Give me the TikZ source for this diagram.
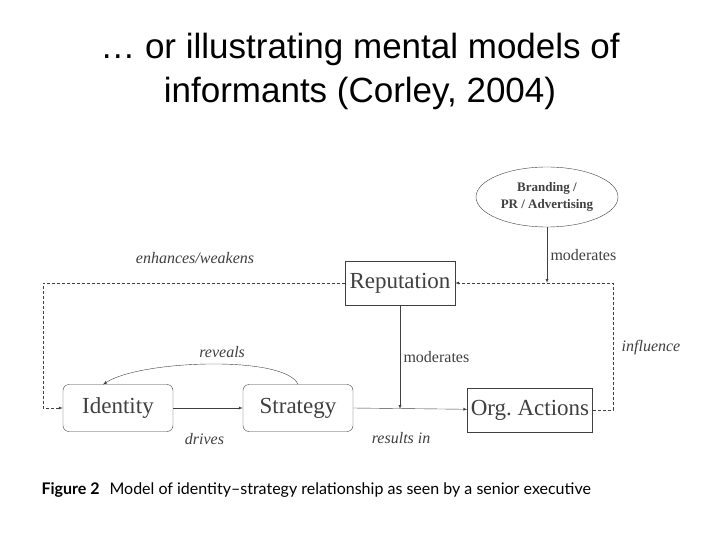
\documentclass[tikz,border=0pt]{standalone}
\usepackage{fontspec}
\setmainfont{Liberation Serif}
\newfontfamily\titlefont{Liberation Sans}
\newfontfamily\capfont{Lato}
\usetikzlibrary{arrows,shapes.geometric}

\begin{document}
\begin{tikzpicture}[->,>=latex,x=1pt,y=-1pt,color=black!75,
  box/.style={draw,rectangle,minimum width=110pt,minimum height=44pt,text height=15pt,text depth=4pt,font=\fontsize{23}{25}\selectfont},
  rbox/.style={box,rounded corners=6pt,minimum height=47pt},
  lbl/.style={font=\fontsize{16}{18}\selectfont\itshape},
  dash line/.style={densely dashed,thin}]
  \useasboundingbox[fill=white] (0,0) rectangle (720,540);
  \node[black,align=center,font=\titlefont\fontsize{35}{44}\selectfont] (title) at (360,71) {\dots\ or illustrating mental models of\\informants (Corley, 2004)};
  \node[draw,ellipse,minimum width=142pt,minimum height=60pt,inner sep=1pt,align=center,font=\fontsize{13}{17}\selectfont\bfseries] (brand) at (547,197) {Branding /\\PR / Advertising};
  \node[box] (rep) at (400,283) {Reputation};
  \node[rbox] (id) at (118,408) {Identity};
  \node[rbox] (strat) at (298,408) {Strategy};
  \node[box,minimum width=120pt] (org) at (530,410) {Org.\ Actions};
  \coordinate (mod) at (547,283);
  \coordinate (res) at (400,409);
  \coordinate (ne) at (613,283);
  \coordinate (nw) at (43,283);
  % feedback loops
  \draw[dash line] (org.east) -| (ne) -- (rep.east);
  \draw[dash line] (rep.west) -- (nw) |- (id.west);
  \path (brand) edge node[right,font=\fontsize{16}{18}\selectfont] {moderates} (mod);
  \path (rep) edge node[right,pos=0.5,font=\fontsize{16}{18}\selectfont] {moderates} (res);
  \path (id) edge node[below=22pt,pos=0.45,lbl] {drives} (strat);
  \path (strat.east) edge node[below=20pt,pos=0.42,lbl] {results in} (org);
  \draw (strat.north) .. controls (285,355) and (140,360) .. node[above=3pt,pos=0.45,lbl] {reveals} (103,384.5);
  \node[lbl] (enh) at (195,258) {enhances/weakens};
  \node[lbl] (infl) at (651,348) {influence};
  \node[black,anchor=west,font=\capfont\fontsize{16}{18}\selectfont] (cap) at (38,490) {\textbf{Figure 2}\hspace{10pt}Model of identity–strategy relationship as seen by a senior executive};
\end{tikzpicture}
\end{document}
